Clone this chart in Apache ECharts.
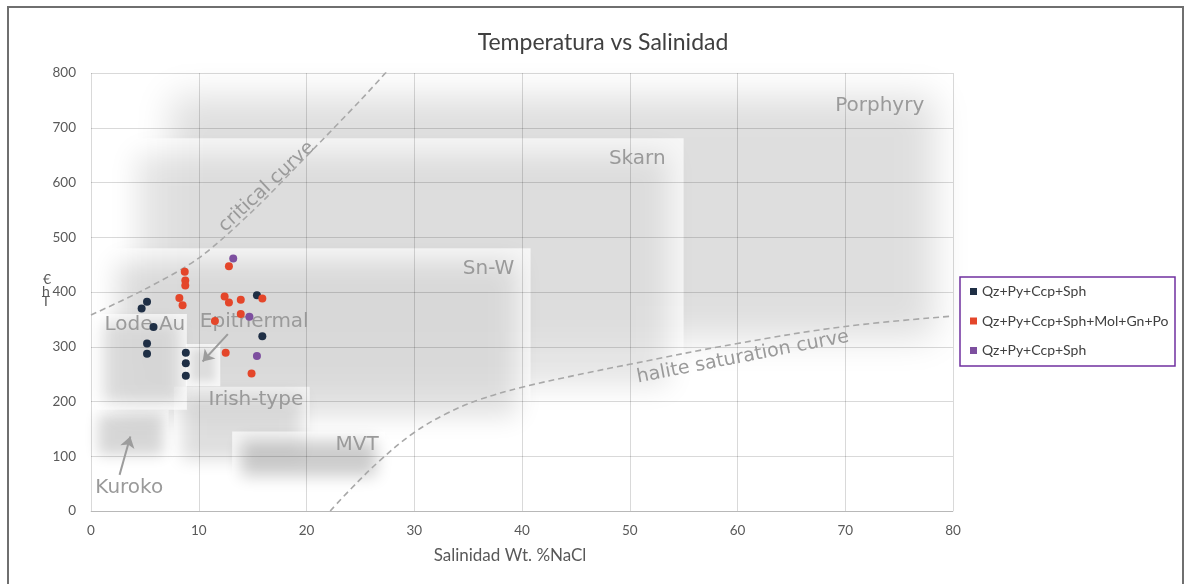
<!DOCTYPE html>
<html>
<head>
<meta charset="utf-8">
<script src="https://cdn.jsdelivr.net/npm/echarts@6/dist/echarts.min.js"></script>
<style>
  html, body { margin: 0; padding: 0; background: #ffffff; }
  #chart { width: 1185px; height: 584px; }
</style>
</head>
<body>
<div id="chart"></div>
<script>
// Salinity (wt.% NaCl) on x, homogenisation temperature (°C) on y.
const xTickValues = [0, 10, 20, 30, 40, 50, 60, 70, 80];
const yTickValues = [0, 100, 200, 300, 400, 500, 600, 700, 800];

// Fluid-inclusion groups
const groupKeys = ['grupo1', 'grupo2', 'grupo3'];
const groupLabels = ['Qz+Py+Ccp+Sph', 'Qz+Py+Ccp+Sph+Mol+Gn+Po', 'Qz+Py+Ccp+Sph'];

const g1Sal  = [5.2, 4.7, 5.8, 5.2, 5.2, 8.8, 8.8, 8.8, 15.4, 15.9];
const g1Temp = [382, 370, 336, 306, 287, 289, 270, 247, 394, 319];

const g2Sal  = [8.7, 8.75, 8.75, 8.2, 8.5, 12.8, 12.4, 12.8, 13.9, 15.9, 13.9, 11.5, 12.5, 14.9];
const g2Temp = [437, 421, 412, 389, 376, 447, 392, 381, 386, 388, 360, 347, 289, 251];

const g3Sal  = [13.2, 14.7, 15.4];
const g3Temp = [461, 355, 283];

// Deposit-type fields (salinity and temperature ranges)
const fieldNames    = ['Porphyry', 'Skarn', 'Sn-W', 'Irish-type', 'Kuroko', 'MVT', 'Lode Au', 'Epithermal'];
const fieldSalMin   = [6.3, 2.7, 1.0, 7.7, 0.2, 13.1, 0.4, 8.8];
const fieldSalMax   = [79.4, 55.0, 40.8, 20.3, 7.2, 27.3, 8.9, 12.0];
const fieldTempMin  = [294, 200, 148, 78, 93, 47, 185, 228];
const fieldTempMax  = [779, 681, 480, 227, 185, 145, 360, 305];

// Field name anchors
const fieldLabelSal  = [73.2, 50.7, 36.9, 15.3, 3.55, 24.7, 5.0, 15.15];
const fieldLabelTemp = [740, 643, 442, 203, 43, 121, 340, 346];

// Reference curves
const criticalSal  = [0, 5, 10, 15, 20, 25, 27.6];
const criticalTemp = [358, 405, 462, 548, 648, 750, 806];
const haliteSal  = [22.2, 24, 26.8, 29.9, 33, 36, 40, 45, 50, 60, 70, 80];
const haliteTemp = [0, 38, 92, 142, 178, 203, 226, 248, 268, 306, 337, 356];
const curveLabels    = ['critical curve', 'halite saturation curve'];
const curveLabelSal  = [16.3, 60.5];
const curveLabelTemp = [592, 281];

// Pointer arrows [fromSal, fromTemp, toSal, toTemp]
const arrowEpithermal = [12.7, 323, 10.36, 273];
const arrowKuroko     = [2.65, 66, 3.65, 136];

// ---------- drawing ----------
const FIELD_LOOK = {
  'Porphyry':   { frame: 0,    shade: 0.13, inset: 12, blur: 34 },
  'Skarn':      { frame: 0.72, shade: 0.10, inset: 16, blur: 26 },
  'Sn-W':       { frame: 0.72, shade: 0.12, inset: 14, blur: 24 },
  'Irish-type': { frame: 0.6,  shade: 0.13, inset: 8,  blur: 16 },
  'Kuroko':     { frame: 0.5,  shade: 0.16, inset: 5,  blur: 14 },
  'MVT':        { frame: 0.7,  shade: 0.20, inset: 9,  blur: 16 },
  'Lode Au':    { frame: 0.75, shade: 0.13, inset: 8,  blur: 14 },
  'Epithermal': { frame: 0.75, shade: 0.10, inset: 5,  blur: 8 }
};
const CURVE_ANGLE = { 'critical curve': 43, 'halite saturation curve': 11 };
const LABEL_GREY = '#9a9a9a';

const fieldData = fieldNames.map((n, i) => [fieldSalMin[i], fieldSalMax[i], fieldTempMin[i], fieldTempMax[i]]);

function renderField(params, api) {
  const look = FIELD_LOOK[fieldNames[params.dataIndex]];
  const tl = api.coord([api.value(0), api.value(3)]);
  const br = api.coord([api.value(1), api.value(2)]);
  const x = tl[0], y = tl[1], w = br[0] - tl[0], h = br[1] - tl[1];
  const kids = [];
  if (look.frame > 0) {
    kids.push({ type: 'rect', shape: { x: x, y: y, width: w, height: h },
      style: { fill: 'rgba(255,255,255,' + look.frame + ')' } });
  }
  // soft grey core: only the blurred shadow of an off-canvas rect lands in place
  const OFF = 3000;
  kids.push({ type: 'rect',
    shape: { x: x + look.inset - OFF, y: y + look.inset, width: w - 2 * look.inset, height: h - 2 * look.inset },
    style: { fill: '#000', shadowColor: 'rgba(0,0,0,' + look.shade + ')', shadowBlur: look.blur, shadowOffsetX: OFF } });
  return { type: 'group', children: kids };
}

function renderText(list, sizeFn, angleFn) {
  return function (params, api) {
    const p = api.coord([api.value(0), api.value(1)]);
    const txt = list[params.dataIndex];
    return { type: 'text', x: p[0], y: p[1], rotation: angleFn(txt) * Math.PI / 180,
      style: { text: txt, fill: LABEL_GREY, font: sizeFn(txt) + 'px "DejaVu Sans"', align: 'center', verticalAlign: 'middle' } };
  };
}

const pts = (xs, ys) => xs.map((v, i) => [v, ys[i]]);
const scatterColors = ['#1f2f45', '#e4462a', '#7d4f9f'];
const groupSal = [g1Sal, g2Sal, g3Sal];
const groupTemp = [g1Temp, g2Temp, g3Temp];

const chart = echarts.init(document.getElementById('chart'), null, { renderer: 'canvas' });
const FONT = 'Lato';

chart.setOption({
  animation: false,
  backgroundColor: '#ffffff',
  title: {
    text: 'Temperatura vs Salinidad',
    left: 598, top: 26, textAlign: 'center',
    textStyle: { fontFamily: FONT, fontSize: 23, fontWeight: 'normal', color: '#404040' }
  },
  grid: { left: 91, right: 232, top: 73, bottom: 73, containLabel: false },
  xAxis: {
    type: 'value', min: 0, max: 80, interval: 10, z: 10,
    name: 'Salinidad Wt. %NaCl', nameLocation: 'middle', nameGap: 36,
    nameTextStyle: { fontFamily: FONT, fontSize: 17, color: '#595959', padding: [0, 24, 0, 0] },
    axisLine: { show: true, lineStyle: { color: 'rgba(0,0,0,0.15)', width: 1 } },
    axisTick: { show: false },
    axisLabel: { margin: 13, fontFamily: FONT, fontSize: 13.5, color: '#595959',
      formatter: v => xTickValues.includes(v) ? String(v) : '' },
    splitLine: { show: true, lineStyle: { color: 'rgba(0,0,0,0.15)', width: 1 } }
  },
  yAxis: {
    type: 'value', min: 0, max: 800, interval: 100, z: 10,
    axisLine: { show: false },
    axisTick: { show: false },
    axisLabel: { margin: 15, fontFamily: FONT, fontSize: 13.5, color: '#595959',
      formatter: v => yTickValues.includes(v) ? String(v) : '' },
    splitLine: { show: true, lineStyle: { color: 'rgba(0,0,0,0.15)', width: 1 } }
  },
  legend: {
    orient: 'vertical', left: 965, top: 278, padding: 5,
    itemWidth: 7, itemHeight: 7, itemGap: 12.5, icon: 'rect', selectedMode: false,
    data: groupKeys,
    formatter: n => groupLabels[groupKeys.indexOf(n)],
    textStyle: { fontFamily: FONT, fontSize: 14, color: '#404040', lineHeight: 17 }
  },
  graphic: [
    { type: 'rect', silent: true, z: -10, shape: { x: 8, y: 7, width: 1175, height: 620 },
      style: { fill: 'none', stroke: '#6f6f6f', lineWidth: 2 } },
    { type: 'rect', silent: true, shape: { x: 960, y: 277, width: 215, height: 89 },
      style: { fill: 'none', stroke: '#7030a0', lineWidth: 1.5 } },
    { type: 'text', silent: true, x: 47, y: 279,
      style: { text: '€', font: '14px ' + FONT, fill: '#595959', align: 'center', verticalAlign: 'middle' } },
    { type: 'text', silent: true, x: 46, y: 291,
      style: { text: 'h', font: '14px ' + FONT, fill: '#595959', align: 'center', verticalAlign: 'middle' } },
    { type: 'text', silent: true, x: 46, y: 301,
      style: { text: 'T', font: '14px ' + FONT, fill: '#595959', align: 'center', verticalAlign: 'middle' } }
  ],
  series: [
    { type: 'custom', name: 'fields', silent: true, z: 1, clip: false,
      encode: { x: [0, 1], y: [2, 3] },
      data: fieldData, renderItem: renderField },
    { type: 'custom', name: 'fieldNames', silent: true, z: 12,
      data: pts(fieldLabelSal, fieldLabelTemp),
      renderItem: renderText(fieldNames, () => 20, () => 0) },
    { type: 'custom', name: 'curveNames', silent: true, z: 12,
      data: pts(curveLabelSal, curveLabelTemp),
      renderItem: renderText(curveLabels, () => 19, t => CURVE_ANGLE[t]) },
    { type: 'line', name: 'critical', silent: true, z: 12, smooth: 0.3, symbol: 'none',
      data: pts(criticalSal, criticalTemp),
      lineStyle: { color: '#a8a8a8', width: 1.6, type: [6, 4] } },
    { type: 'line', name: 'halite', silent: true, z: 12, smooth: 0.4, symbol: 'none',
      data: pts(haliteSal, haliteTemp),
      lineStyle: { color: '#a8a8a8', width: 1.6, type: [6, 4] } },
    { type: 'lines', name: 'arrows', coordinateSystem: 'cartesian2d', silent: true, z: 12,
      symbol: ['none', 'arrow'], symbolSize: 11,
      lineStyle: { color: '#9c9c9c', width: 2, opacity: 1 },
      data: [arrowEpithermal, arrowKuroko].map(a => ({ coords: [[a[0], a[1]], [a[2], a[3]]] })) },
    ...groupKeys.map((k, i) => ({
      type: 'scatter', name: k, z: 20, symbol: 'circle', symbolSize: 8,
      itemStyle: { color: scatterColors[i], opacity: 1 },
      data: pts(groupSal[i], groupTemp[i])
    }))
  ]
});
</script>
</body>
</html>
